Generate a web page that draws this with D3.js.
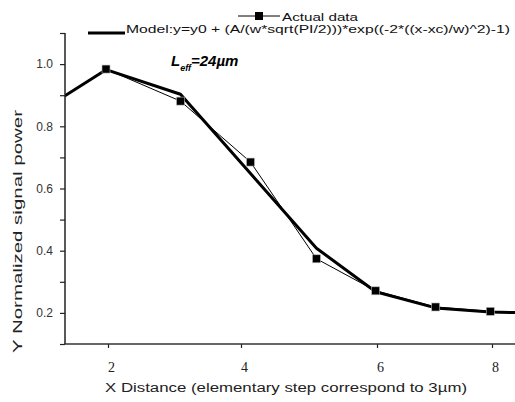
<!DOCTYPE html>
<html>
<head>
<meta charset="utf-8">
<script src="https://cdn.jsdelivr.net/npm/d3@7"></script>
<style>
  body { margin: 0; background: #fff; }
  svg { display: block; }
</style>
</head>
<body>
<svg id="chart"></svg>
<script>
// values
const xValues   = [1, 1.97, 3.09, 4.14, 5.11, 5.98, 7.02, 7.97, 9];
const actualY   = [0.85, 0.984, 0.881, 0.685, 0.374, 0.271, 0.219, 0.205, 0.2];
const modelY    = [0.85, 0.982, 0.903, 0.648, 0.408, 0.268, 0.216, 0.203, 0.198];
const xTicks    = [2, 4, 6, 8];
const yMajor    = [0.2, 0.4, 0.6, 0.8, 1.0];
const yMinor    = [0.1, 0.3, 0.5, 0.7, 0.9, 1.1];
const legendLabels = ['Actual data', 'Model:y=y0 + (A/(w*sqrt(PI/2)))*exp((-2*((x-xc)/w)^2)-1)'];

const width = 515, height = 402;
const plot = { left: 65, right: 515, top: 33, bottom: 344 };

const svg = d3.select('#chart')
  .attr('width', width)
  .attr('height', height);

// the original x axis is not evenly spaced, so use a piecewise scale
const xScale = d3.scaleLinear()
  .domain(xTicks)
  .range([108, 241, 377, 492]);

const yScale = d3.scaleLinear()
  .domain([0.1, 1.1])
  .range([plot.bottom, plot.top]);

svg.append('clipPath')
  .attr('id', 'clip')
  .append('rect')
  .attr('x', plot.left)
  .attr('y', plot.top - 5)
  .attr('width', plot.right - plot.left)
  .attr('height', plot.bottom - plot.top + 5);

const actual = xValues.map((x, i) => ({ x: x, y: actualY[i] }));
const model = xValues.map((x, i) => ({ x: x, y: modelY[i] }));

const line = d3.line()
  .x(d => xScale(d.x))
  .y(d => yScale(d.y));

const plotG = svg.append('g').attr('clip-path', 'url(#clip)');

plotG.append('path')
  .datum(actual)
  .attr('d', line)
  .attr('fill', 'none')
  .attr('stroke', '#000')
  .attr('stroke-width', 1);

plotG.append('path')
  .datum(model)
  .attr('d', line)
  .attr('fill', 'none')
  .attr('stroke', '#000')
  .attr('stroke-width', 3)
  .attr('stroke-linejoin', 'round');

plotG.selectAll('.point')
  .data(actual)
  .join('rect')
  .attr('class', 'point')
  .attr('x', d => xScale(d.x) - 4)
  .attr('y', d => yScale(d.y) - 4)
  .attr('width', 8)
  .attr('height', 8)
  .attr('fill', '#000')
  .attr('stroke', '#bbb')
  .attr('stroke-width', 0.6);

// axes
const yAxisMajor = d3.axisLeft(yScale)
  .tickValues(yMajor)
  .tickSize(5)
  .tickFormat(d3.format('.1f'));

const yAxisMinor = d3.axisLeft(yScale)
  .tickValues(yMinor)
  .tickSize(5)
  .tickFormat('');

const xAxis = d3.axisBottom(xScale)
  .tickValues(xTicks)
  .tickSize(4)
  .tickFormat(d3.format('d'));

const yG = svg.append('g')
  .attr('transform', `translate(${plot.left},0)`)
  .call(yAxisMajor);
const yG2 = svg.append('g')
  .attr('transform', `translate(${plot.left},0)`)
  .call(yAxisMinor);
const xG = svg.append('g')
  .attr('transform', `translate(0,${plot.bottom})`)
  .call(xAxis);

[yG, yG2, xG].forEach(g => {
  g.select('.domain').remove();
  g.selectAll('.tick line').attr('stroke', '#222').attr('stroke-width', 1.2);
});

yG.selectAll('text')
  .attr('x', -12)
  .style('font-family', 'Liberation Sans, Arial, sans-serif')
  .style('font-size', '12px')
  .attr('fill', '#333');

xG.selectAll('text')
  .attr('y', 18)
  .attr('dy', '0.71em')
  .attr('dx', 3)
  .style('font-family', 'Liberation Serif, Times New Roman, serif')
  .style('font-size', '14px')
  .attr('fill', '#222');

svg.append('line')
  .attr('x1', plot.left).attr('x2', plot.left)
  .attr('y1', plot.top).attr('y2', plot.bottom)
  .attr('stroke', '#222').attr('stroke-width', 1.5);

svg.append('line')
  .attr('x1', plot.left - 1).attr('x2', plot.right)
  .attr('y1', plot.bottom).attr('y2', plot.bottom)
  .attr('stroke', '#333').attr('stroke-width', 1.5);

// axis titles
svg.append('text')
  .attr('x', 105)
  .attr('y', 392)
  .attr('textLength', 362)
  .attr('lengthAdjust', 'spacingAndGlyphs')
  .style('font-family', 'Liberation Sans, Arial, sans-serif')
  .style('font-size', '12px')
  .attr('fill', '#222')
  .text('X Distance (elementary step correspond to 3\u00b5m)');

svg.append('text')
  .attr('transform', 'translate(22,353) rotate(-90)')
  .attr('textLength', 243)
  .attr('lengthAdjust', 'spacingAndGlyphs')
  .style('font-family', 'Liberation Sans, Arial, sans-serif')
  .style('font-size', '12px')
  .attr('fill', '#222')
  .text('Y Normalized signal power');

// legend
const legend = svg.append('g');

legend.append('line')
  .attr('x1', 238).attr('x2', 280)
  .attr('y1', 16).attr('y2', 16)
  .attr('stroke', '#000').attr('stroke-width', 1);
legend.append('rect')
  .attr('x', 255).attr('y', 12)
  .attr('width', 8).attr('height', 8)
  .attr('fill', '#000');
legend.append('text')
  .attr('x', 282).attr('y', 20.5)
  .attr('textLength', 76)
  .attr('lengthAdjust', 'spacingAndGlyphs')
  .style('font-family', 'Liberation Sans, Arial, sans-serif')
  .style('font-size', '11px')
  .attr('fill', '#111')
  .text(legendLabels[0]);

legend.append('line')
  .attr('x1', 88).attr('x2', 125)
  .attr('y1', 33).attr('y2', 33)
  .attr('stroke', '#000').attr('stroke-width', 3);
legend.append('text')
  .attr('x', 126).attr('y', 33)
  .attr('textLength', 384)
  .attr('lengthAdjust', 'spacingAndGlyphs')
  .style('font-family', 'Liberation Sans, Arial, sans-serif')
  .style('font-size', '11px')
  .attr('fill', '#111')
  .text(legendLabels[1]);

// annotation
const ann = svg.append('text')
  .attr('x', 171).attr('y', 65.5)
  .style('font-family', 'Liberation Sans, Arial, sans-serif')
  .style('font-weight', 'bold')
  .style('font-style', 'italic')
  .style('font-size', '15px')
  .attr('fill', '#000');
ann.append('tspan').text('L');
ann.append('tspan')
  .attr('dy', 5)
  .style('font-size', '9px')
  .text('eff');
ann.append('tspan')
  .attr('dy', -5)
  .text('=24\u00b5m');
</script>
</body>
</html>
